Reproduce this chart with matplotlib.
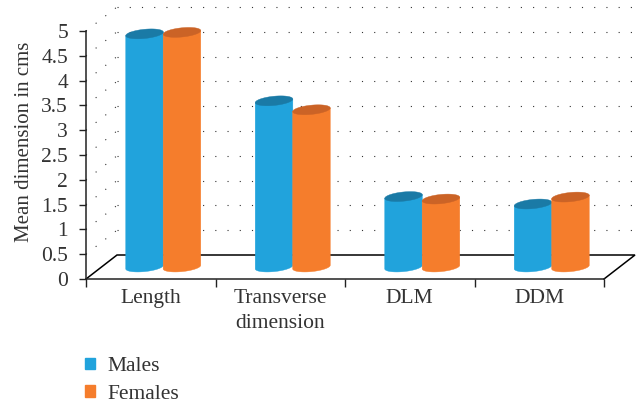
import numpy as np
import matplotlib
matplotlib.use("Agg")
import matplotlib.pyplot as plt
from matplotlib.patches import Patch

categories = ["Length", "Transverse\ndimension", "DLM", "DDM"]
males = [4.7, 3.35, 1.42, 1.27]
females = [4.73, 3.17, 1.37, 1.41]
yticks = [0, 0.5, 1, 1.5, 2, 2.5, 3, 3.5, 4, 4.5, 5]
ytick_labels = ["0", "0.5", "1", "1.5", "2", "2.5", "3", "3.5", "4", "4.5", "5"]

plt.rcParams["font.family"] = ["Liberation Serif", "DejaVu Serif"]
text_col = "#333333"

fig = plt.figure(figsize=(6.38, 4.04), dpi=100)
ax = fig.add_axes([86 / 638, 1 - 279 / 404, 518 / 638, 248 / 404])
ax.set_xlim(0, 4)
ax.set_ylim(0, 5)

# pixel sizes turned into data units
px_x = 4 / 518
px_y = 5 / 248
depth_x = 31 * px_x
depth_y = 24 * px_y

# back wall and side wall dots
for v in yticks[1:]:
    ax.plot([depth_x, 4 + depth_x], [v + depth_y, v + depth_y], color="#333333",
            lw=0.8, ls=(0, (1, 10)), clip_on=False, zorder=1)
    ax.plot([0, depth_x], [v, v + depth_y], color="#333333",
            lw=0.8, ls=(0, (1, 10)), clip_on=False, zorder=1)

# floor
ax.plot([0, depth_x, 4 + depth_x, 4], [0, depth_y, depth_y, 0], color="black",
        lw=1.1, clip_on=False, zorder=1, solid_joinstyle="miter")


def cylinder(cx, value, side_col, top_col):
    a = 18.8 * px_x
    b = 4.6 * px_y
    s = 1.8 * px_y
    base = 12 * px_y
    t = np.linspace(0, 2 * np.pi, 121)
    ex = cx + a * np.cos(t)
    ey = b * np.sin(t) + s * np.cos(t)
    low = t[:61] + np.pi
    xs = np.concatenate([cx + a * np.cos(low), cx + a * np.cos(low[::-1])])
    ys = np.concatenate([base + b * np.sin(low) + s * np.cos(low),
                         value + base + s * np.cos(low[::-1])])
    ax.fill(xs, ys, color=side_col, lw=0.3, clip_on=False, zorder=3)
    ax.fill(ex, value + base + ey, color=top_col, lw=0.3, clip_on=False, zorder=3)


blue = "#21A3DC"
orange = "#F57D2C"
for i in range(len(categories)):
    cylinder(i + 0.452, males[i], blue, "#1A7AA6")
    cylinder(i + 0.741, females[i], orange, "#CB6326")

for side in ["top", "right"]:
    ax.spines[side].set_visible(False)
for side in ["left", "bottom"]:
    ax.spines[side].set_color("#222222")
    ax.spines[side].set_linewidth(1.1)

ax.set_yticks(yticks)
ax.set_yticklabels(ytick_labels, fontsize=15.5, color=text_col)
ax.tick_params(axis="y", length=5, width=1, color="#222222", pad=8)
ax.set_xticks([0, 1, 2, 3, 4])
ax.set_xticklabels([])
ax.tick_params(axis="x", which="major", length=6, width=1, color="#222222")
ax.set_xticks([0.5, 1.5, 2.5, 3.5], minor=True)
ax.set_xticklabels(categories, minor=True, fontsize=15.5, color=text_col, linespacing=1.4)
ax.tick_params(axis="x", which="minor", length=0, pad=7.5)
ax.set_ylabel("Mean dimension in cms", fontsize=15, color=text_col)
ax.yaxis.set_label_coords((34 - 86) / 518, 0.552)

fig.legend(handles=[Patch(color=blue, label="Males"), Patch(color=orange, label="Females")],
           loc="lower left", bbox_to_anchor=(85 / 638, 0 / 404), frameon=False, fontsize=15.5,
           labelcolor=text_col, handlelength=0.46, handleheight=0.46, handletextpad=0.6,
           labelspacing=0.41, borderpad=0, borderaxespad=0)

fig.savefig("out.png", dpi=100)
